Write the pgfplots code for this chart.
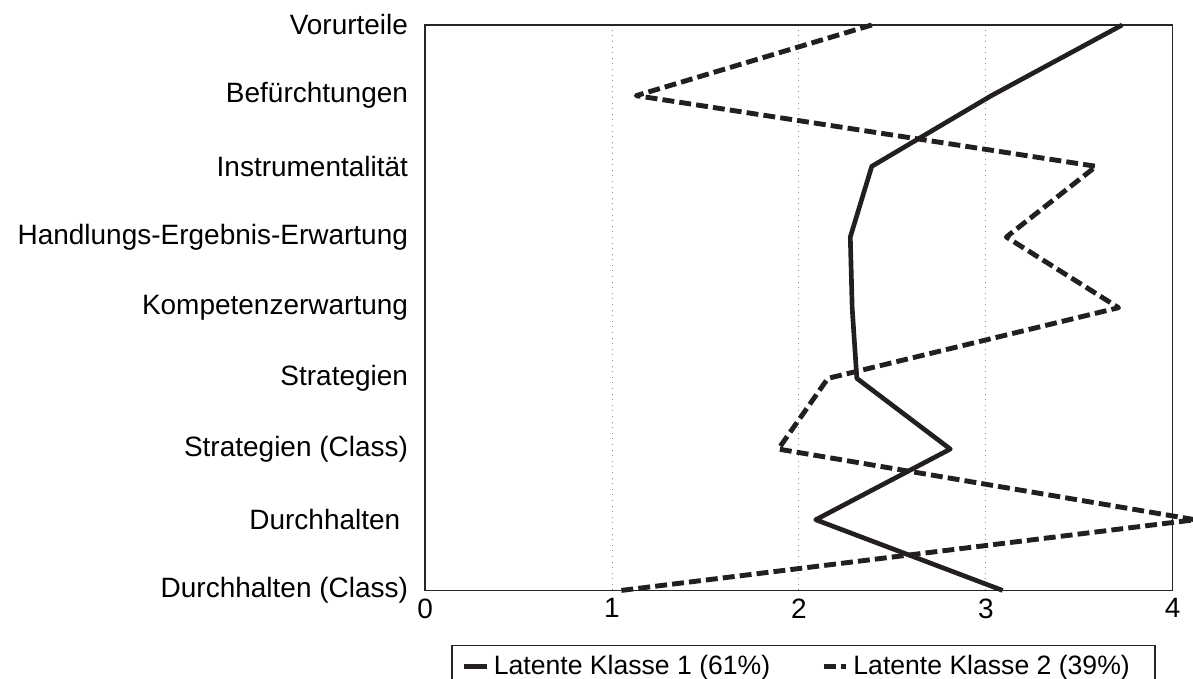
\documentclass[border=0pt]{standalone}
\usepackage{fontspec}
\setmainfont{Liberation Sans}
\usepackage{pgfplots}
\pgfplotsset{compat=1.18}
\definecolor{ln}{HTML}{231F20}
\begin{document}
\begin{tikzpicture}
\begin{axis}[
  scale only axis,
  width=320.6pt, height=242.5pt,
  xmin=0, xmax=4, ymin=0, ymax=8,
  xtick={0,1,2,3,4},
  ytick={0,1,2,3,4,5,6,7,8},
  yticklabels={Durchhalten (Class), Durchhalten\hspace*{3.3pt}, Strategien (Class), Strategien, Kompetenzerwartung, Handlungs-Ergebnis-Erwartung, Instrumentalität, Befürchtungen, Vorurteile},
  major tick length=0pt,
  xmajorgrids, grid style={dotted, black!45, line width=0.4pt},
  axis line style={black!85, line width=0.6pt},
  tick label style={font=\fontsize{12}{14}\selectfont, black},
  /pgf/number format/assume math mode=true,
  yticklabel style={xshift=-3.8pt},
  clip=false,
  legend columns=2,
  legend style={at={(0.5,0)}, anchor=north, yshift=-23.4pt, xshift=2pt, draw=black!85, line width=0.6pt, font=\fontsize{11.4}{13}\selectfont, inner xsep=4.3pt, inner ysep=2pt, /tikz/every even column/.append style={column sep=20pt}},
  legend image code/.code={\draw[#1] (0pt,0pt) -- (9.6pt,0pt);},
]
\addplot[ln, line width=2pt, line join=round] coordinates {
(3.73,8) (3.03,7) (2.39,6) (2.275,5) (2.285,4) (2.31,3) (2.81,2) (2.09,1) (3.09,0)};
\addlegendentry{Latente Klasse 1 (61\%)}
\addplot[ln, line width=2.1pt, line join=round, dash pattern=on 5.1pt off 2.2pt] coordinates {
(2.39,8) (1.13,7) (3.59,6) (3.11,5) (3.71,4) (2.155,3) (1.89,2) (4.12,1) (1.05,0)};
\addlegendentry{Latente Klasse 2 (39\%)\hspace*{4.5pt}}
\coordinate (sw) at (rel axis cs:0,0);
\coordinate (ne) at (rel axis cs:1,1);
\end{axis}
\pgfresetboundingbox
\path[use as bounding box] ([xshift=-182.3pt,yshift=-37.85pt]sw) rectangle ([xshift=8.7pt,yshift=10.7pt]ne);
\end{tikzpicture}
\end{document}
